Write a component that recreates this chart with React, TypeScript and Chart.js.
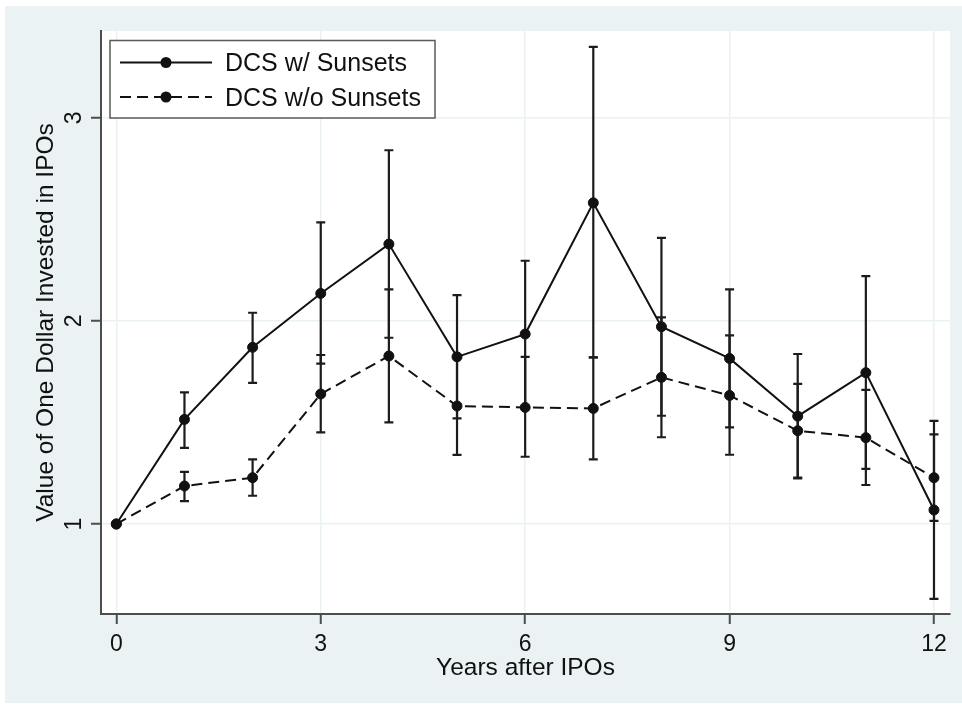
import { useEffect, useRef } from "react";
import { Chart, registerables } from "chart.js";

Chart.register(...registerables);

// ---- data ----
const years = [0, 1, 2, 3, 4, 5, 6, 7, 8, 9, 10, 11, 12];
const withSunsets = [1.0, 1.515, 1.87, 2.135, 2.378, 1.823, 1.935, 2.581, 1.971, 1.815, 1.531, 1.745, 1.069];
const withSunsetsHigh = [null, 1.648, 2.04, 2.485, 2.84, 2.127, 2.296, 3.349, 2.409, 2.155, 1.837, 2.22, 1.508];
const withSunsetsLow = [null, 1.375, 1.695, 1.79, 1.917, 1.52, 1.574, 1.82, 1.533, 1.476, 1.225, 1.271, 0.631];
const withoutSunsets = [1.0, 1.187, 1.228, 1.64, 1.827, 1.581, 1.574, 1.569, 1.722, 1.633, 1.459, 1.425, 1.228];
const withoutSunsetsHigh = [null, 1.257, 1.318, 1.832, 2.155, 1.822, 1.823, 1.82, 2.017, 1.929, 1.69, 1.66, 1.441];
const withoutSunsetsLow = [null, 1.113, 1.139, 1.451, 1.5, 1.34, 1.331, 1.318, 1.427, 1.341, 1.228, 1.192, 1.015];
const seriesLabels = ["DCS w/ Sunsets", "DCS w/o Sunsets"];
const xTickValues = [0, 3, 6, 9, 12];
const yTickValues = [1, 2, 3];
const xTitle = "Years after IPOs";
const yTitle = "Value of One Dollar Invested in IPOs";

// ---- styles ----
const BG = "#eaf2f3";
const INK = "#111111";
const AXIS = "#4d4d4d";
const FONT = "'Liberation Sans', Arial, sans-serif";

const backgroundPlugin = {
  id: "stataBackground",
  beforeDraw(chart: any) {
    const { ctx, chartArea, width, height } = chart;
    ctx.save();
    ctx.fillStyle = BG;
    ctx.fillRect(0, 0, width, height);
    ctx.fillStyle = "#ffffff";
    ctx.fillRect(chartArea.left, chartArea.top, chartArea.right - chartArea.left, chartArea.bottom - chartArea.top);
    ctx.restore();
  },
};

const errorBarPlugin = {
  id: "errorBars",
  beforeDatasetsDraw(chart: any) {
    const { ctx } = chart;
    const xs = chart.scales.x;
    const ys = chart.scales.y;
    const cap = 4.5;
    ctx.save();
    ctx.strokeStyle = "#1c1c1c";
    ctx.lineWidth = 2.2;
    ctx.setLineDash([]);
    chart.data.datasets.forEach((ds: any) => {
      ds.data.forEach((pt: any, i: number) => {
        const lo = ds.errLow[i];
        const hi = ds.errHigh[i];
        if (lo == null || hi == null) return;
        const px = xs.getPixelForValue(pt.x);
        const pl = ys.getPixelForValue(lo);
        const ph = ys.getPixelForValue(hi);
        ctx.beginPath();
        ctx.moveTo(px, pl);
        ctx.lineTo(px, ph);
        ctx.moveTo(px - cap, pl);
        ctx.lineTo(px + cap, pl);
        ctx.moveTo(px - cap, ph);
        ctx.lineTo(px + cap, ph);
        ctx.stroke();
      });
    });
    ctx.restore();
  },
};

const legendPlugin = {
  id: "stataLegend",
  afterDraw(chart: any) {
    const { ctx, chartArea } = chart;
    const bx = chartArea.left + 9;
    const by = chartArea.top + 9.5;
    const bw = 325;
    const bh = 77.5;
    ctx.save();
    ctx.fillStyle = "#ffffff";
    ctx.fillRect(bx, by, bw, bh);
    ctx.strokeStyle = "#5a5a5a";
    ctx.lineWidth = 1.5;
    ctx.strokeRect(bx, by, bw, bh);
    const rows = [by + 22, by + 56.5];
    chart.data.datasets.forEach((ds: any, i: number) => {
      const cy = rows[i];
      ctx.strokeStyle = ds.borderColor;
      ctx.lineWidth = ds.borderWidth;
      ctx.setLineDash(ds.borderDash || []);
      ctx.beginPath();
      ctx.moveTo(bx + 10, cy);
      ctx.lineTo(bx + 102, cy);
      ctx.stroke();
      ctx.setLineDash([]);
      ctx.fillStyle = ds.pointBackgroundColor;
      ctx.beginPath();
      ctx.arc(bx + 56, cy, ds.pointRadius + 0.5, 0, Math.PI * 2);
      ctx.fill();
      ctx.fillStyle = INK;
      ctx.font = `25px ${FONT}`;
      ctx.textBaseline = "middle";
      ctx.textAlign = "left";
      ctx.fillText(ds.label, bx + 115, cy + 2);
    });
    ctx.restore();
  },
};

export default function App() {
  const canvasRef = useRef<HTMLCanvasElement | null>(null);

  useEffect(() => {
    if (!canvasRef.current) return;
    const mk = (ys: number[]) => years.map((x, i) => ({ x, y: ys[i] }));
    const chart = new Chart(canvasRef.current, {
      type: "line",
      data: {
        datasets: [
          {
            label: seriesLabels[0],
            data: mk(withSunsets),
            errLow: withSunsetsLow,
            errHigh: withSunsetsHigh,
            borderColor: INK,
            borderWidth: 2,
            pointRadius: 5,
            pointBorderWidth: 1,
            pointBackgroundColor: INK,
            pointBorderColor: INK,
            tension: 0,
          } as any,
          {
            label: seriesLabels[1],
            data: mk(withoutSunsets),
            errLow: withoutSunsetsLow,
            errHigh: withoutSunsetsHigh,
            borderColor: INK,
            borderWidth: 2,
            borderDash: [11, 6],
            pointRadius: 5,
            pointBorderWidth: 1,
            pointBackgroundColor: INK,
            pointBorderColor: INK,
            tension: 0,
          } as any,
        ],
      },
      options: {
        animation: false,
        responsive: false,
        devicePixelRatio: 1,
        layout: { padding: { top: 25, right: 12, left: 0, bottom: 0 } },
        plugins: {
          legend: { display: false },
          tooltip: { enabled: false },
        },
        scales: {
          x: {
            type: "linear",
            min: -0.225,
            max: 12.235,
            afterBuildTicks: (scale: any) => {
              scale.ticks = xTickValues.map((value) => ({ value }));
            },
            afterFit: (scale: any) => {
              scale.height = 89;
            },
            grid: {
              color: BG,
              lineWidth: 1.5,
              tickColor: AXIS,
              tickWidth: 2,
              tickLength: 10,
            },
            border: { color: AXIS, width: 2 },
            ticks: {
              color: INK,
              padding: 7,
              maxRotation: 0,
              font: { family: FONT, size: 23 },
            },
            title: {
              display: true,
              text: xTitle,
              color: INK,
              font: { family: FONT, size: 24.5 },
              padding: { top: 0, bottom: 20 },
            },
          },
          y: {
            type: "linear",
            min: 0.557,
            max: 3.427,
            afterBuildTicks: (scale: any) => {
              scale.ticks = yTickValues.map((value) => ({ value }));
            },
            afterFit: (scale: any) => {
              scale.width = 96;
            },
            grid: {
              color: BG,
              lineWidth: 1.5,
              tickColor: AXIS,
              tickWidth: 2,
              tickLength: 10,
            },
            border: { color: AXIS, width: 2 },
            ticks: {
              color: INK,
              padding: 10,
              minRotation: 90,
              maxRotation: 90,
              crossAlign: "center",
              font: { family: FONT, size: 23 },
            },
            title: {
              display: true,
              text: yTitle,
              color: INK,
              font: { family: FONT, size: 24.5 },
              padding: { top: 27, bottom: 0 },
            },
          },
        },
      },
      plugins: [backgroundPlugin, errorBarPlugin, legendPlugin],
    } as any);
    return () => chart.destroy();
  }, []);

  return (
    <div style={{ position: "absolute", left: 5, top: 6, width: 957, height: 697 }}>
      <canvas ref={canvasRef} width={957} height={697} style={{ display: "block" }} />
    </div>
  );
}
